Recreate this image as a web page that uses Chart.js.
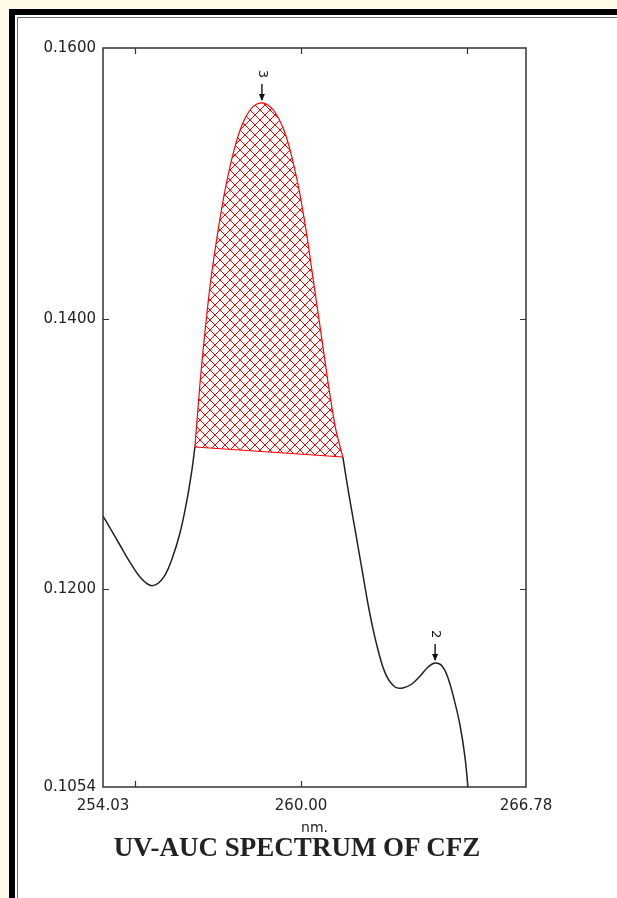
<!DOCTYPE html>
<html><head><meta charset="utf-8">
<script src="https://cdn.jsdelivr.net/npm/chart.js@4.4.1/dist/chart.umd.min.js"></script>
<style>
html,body{margin:0;padding:0;width:617px;height:898px;overflow:hidden;background:#fffae8;}
#frameOuter{position:absolute;left:9px;top:9px;width:700px;height:1000px;background:#000;}
#frameInner{position:absolute;left:15px;top:15px;width:700px;height:1000px;background:#fff;}
#frameLine{position:absolute;left:17px;top:17px;width:700px;height:1000px;border-left:1px solid #6a6a6a;border-top:1px solid #6a6a6a;}
#chart{position:absolute;left:0;top:0;}
#title{position:absolute;left:0;width:594px;top:831px;text-align:center;font-family:"Liberation Serif","Times New Roman",serif;font-weight:bold;font-size:27px;line-height:32px;color:#222;}
</style></head><body>
<div id="frameOuter"></div><div id="frameInner"></div><div id="frameLine"></div>
<canvas id="chart" width="617" height="898"></canvas>
<div id="title">UV-AUC SPECTRUM OF CFZ</div>
<script>
// ---- data (wavelength in nm, absorbance) ----
const wlLeft  = [254.03, 254.24, 254.54, 254.84, 255.15, 255.45, 255.69, 255.90, 256.11, 256.35, 256.56, 256.71, 256.80];
const absLeft = [0.12542, 0.12454, 0.12328, 0.12202, 0.12090, 0.12030, 0.12045, 0.12105, 0.12225, 0.12417, 0.12660, 0.12882, 0.13052];

const wlPeak  = [256.80, 256.95, 257.11, 257.26, 257.50, 257.74, 257.98, 258.22, 258.46, 258.67, 258.82, 259.00, 259.21, 259.46, 259.67, 259.91, 260.15, 260.39, 260.63, 260.87, 261.05, 261.26];
const absPeak = [0.13052, 0.13510, 0.13917, 0.14249, 0.14655, 0.14988, 0.15246, 0.15431, 0.15542, 0.15586, 0.15594, 0.15579, 0.15527, 0.15409, 0.15246, 0.14988, 0.14655, 0.14249, 0.13843, 0.13436, 0.13178, 0.12978];

const wlRight  = [261.26, 261.42, 261.63, 261.84, 262.08, 262.32, 262.56, 262.83, 263.07, 263.34, 263.59, 263.83, 264.04, 264.25, 264.43, 264.61, 264.79, 264.94, 265.03];
const absRight = [0.12978, 0.12734, 0.12439, 0.12143, 0.11811, 0.11552, 0.11368, 0.11279, 0.11272, 0.11301, 0.11360, 0.11427, 0.11456, 0.11434, 0.11345, 0.11190, 0.10998, 0.10762, 0.10540];

const wlBase  = [256.80, 261.26];
const absBase = [0.13052, 0.12978];

const xTickLabels = [254.03, 260.00, 266.78];
const xMarks = [255, 260, 265];
const yTickLabels = [0.1054, 0.1200, 0.1400, 0.1600];
const yMarks = [0.1200, 0.1400];

const peakWl = [258.82, 264.04];
const peakAbs = [0.15594, 0.11456];
const peakNames = ['3', '2'];

const pts = (xs, ys) => xs.map((x, i) => ({x: x, y: ys[i]}));

// cross-hatch pattern
function hatch() {
  const c = document.createElement('canvas');
  c.width = 10; c.height = 10;
  const g = c.getContext('2d');
  g.strokeStyle = '#ff0000';
  g.lineWidth = 1;
  g.beginPath();
  g.moveTo(0, 0); g.lineTo(10, 10);
  g.moveTo(10, 0); g.lineTo(0, 10);
  g.stroke();
  return g.createPattern(c, 'repeat');
}

const boxPlugin = {
  id: 'box',
  afterDraw(chart) {
    const {ctx, chartArea: a, scales: {x, y}} = chart;
    ctx.save();
    ctx.strokeStyle = '#333';
    ctx.lineWidth = 1.5;
    ctx.strokeRect(a.left, a.top, a.right - a.left, a.bottom - a.top);
    ctx.lineWidth = 1.2;
    ctx.beginPath();
    xMarks.forEach(v => {
      const px = Math.round(x.getPixelForValue(v)) + 0.5;
      ctx.moveTo(px, a.bottom); ctx.lineTo(px, a.bottom - 6);
      ctx.moveTo(px, a.top); ctx.lineTo(px, a.top + 6);
    });
    yMarks.forEach(v => {
      const py = Math.round(y.getPixelForValue(v)) + 0.5;
      ctx.moveTo(a.left, py); ctx.lineTo(a.left + 6, py);
      ctx.moveTo(a.right, py); ctx.lineTo(a.right - 6, py);
    });
    ctx.stroke();
    // peak markers
    ctx.fillStyle = '#111';
    ctx.strokeStyle = '#111';
    ctx.lineWidth = 1.4;
    ctx.font = '13px "DejaVu Sans"';
    ctx.textAlign = 'center';
    ctx.textBaseline = 'middle';
    peakWl.forEach((w, i) => {
      const px = x.getPixelForValue(w);
      const py = y.getPixelForValue(peakAbs[i]);
      ctx.beginPath();
      ctx.moveTo(px, py - 19); ctx.lineTo(px, py - 3);
      ctx.stroke();
      ctx.beginPath();
      ctx.moveTo(px - 3, py - 9); ctx.lineTo(px + 3, py - 9); ctx.lineTo(px, py - 2);
      ctx.closePath(); ctx.fill();
      ctx.save();
      ctx.translate(px, py - 29);
      ctx.rotate(Math.PI / 2);
      ctx.fillText(peakNames[i], 0, 0);
      ctx.restore();
    });
    ctx.restore();
  }
};

Chart.defaults.font.family = '"DejaVu Sans", sans-serif';

new Chart(document.getElementById('chart'), {
  type: 'line',
  data: {
    datasets: [
      {data: pts(wlLeft, absLeft), borderColor: '#222', borderWidth: 1.5, tension: 0.4, fill: false},
      {data: pts(wlPeak, absPeak), borderColor: '#ff0000', borderWidth: 1.2, cubicInterpolationMode: 'monotone', fill: {target: 3}, backgroundColor: hatch()},
      {data: pts(wlRight, absRight), borderColor: '#222', borderWidth: 1.5, tension: 0.4, fill: false},
      {data: pts(wlBase, absBase), borderColor: '#ff0000', borderWidth: 1.2, fill: false}
    ]
  },
  options: {
    responsive: false,
    devicePixelRatio: 1,
    animation: false,
    elements: {point: {radius: 0, hoverRadius: 0}},
    layout: {padding: {left: 0, top: 48, right: 91, bottom: 61}},
    plugins: {legend: {display: false}, tooltip: {enabled: false}, title: {display: false}},
    scales: {
      x: {
        type: 'linear', min: 254.03, max: 266.78,
        grid: {display: false, drawTicks: false},
        border: {display: false},
        afterBuildTicks: s => { s.ticks = xTickLabels.map(v => ({value: v})); },
        afterFit: s => { s.height = 50; },
        ticks: {padding: 10, maxRotation: 0, autoSkip: false, color: '#222', font: {size: 15}, callback: v => Number(v).toFixed(2)},
        title: {display: true, text: 'nm.', color: '#222', font: {size: 14}, padding: {top: 0, bottom: 0}}
      },
      y: {
        type: 'linear', min: 0.1054, max: 0.16,
        grid: {display: false, drawTicks: false},
        border: {display: false},
        afterBuildTicks: s => { s.ticks = yTickLabels.map(v => ({value: v})); },
        afterFit: s => { s.width = 103; },
        ticks: {padding: 7, autoSkip: false, color: '#222', font: {size: 15}, callback: v => Number(v).toFixed(4)}
      }
    }
  },
  plugins: [boxPlugin]
});
</script>
</body></html>
